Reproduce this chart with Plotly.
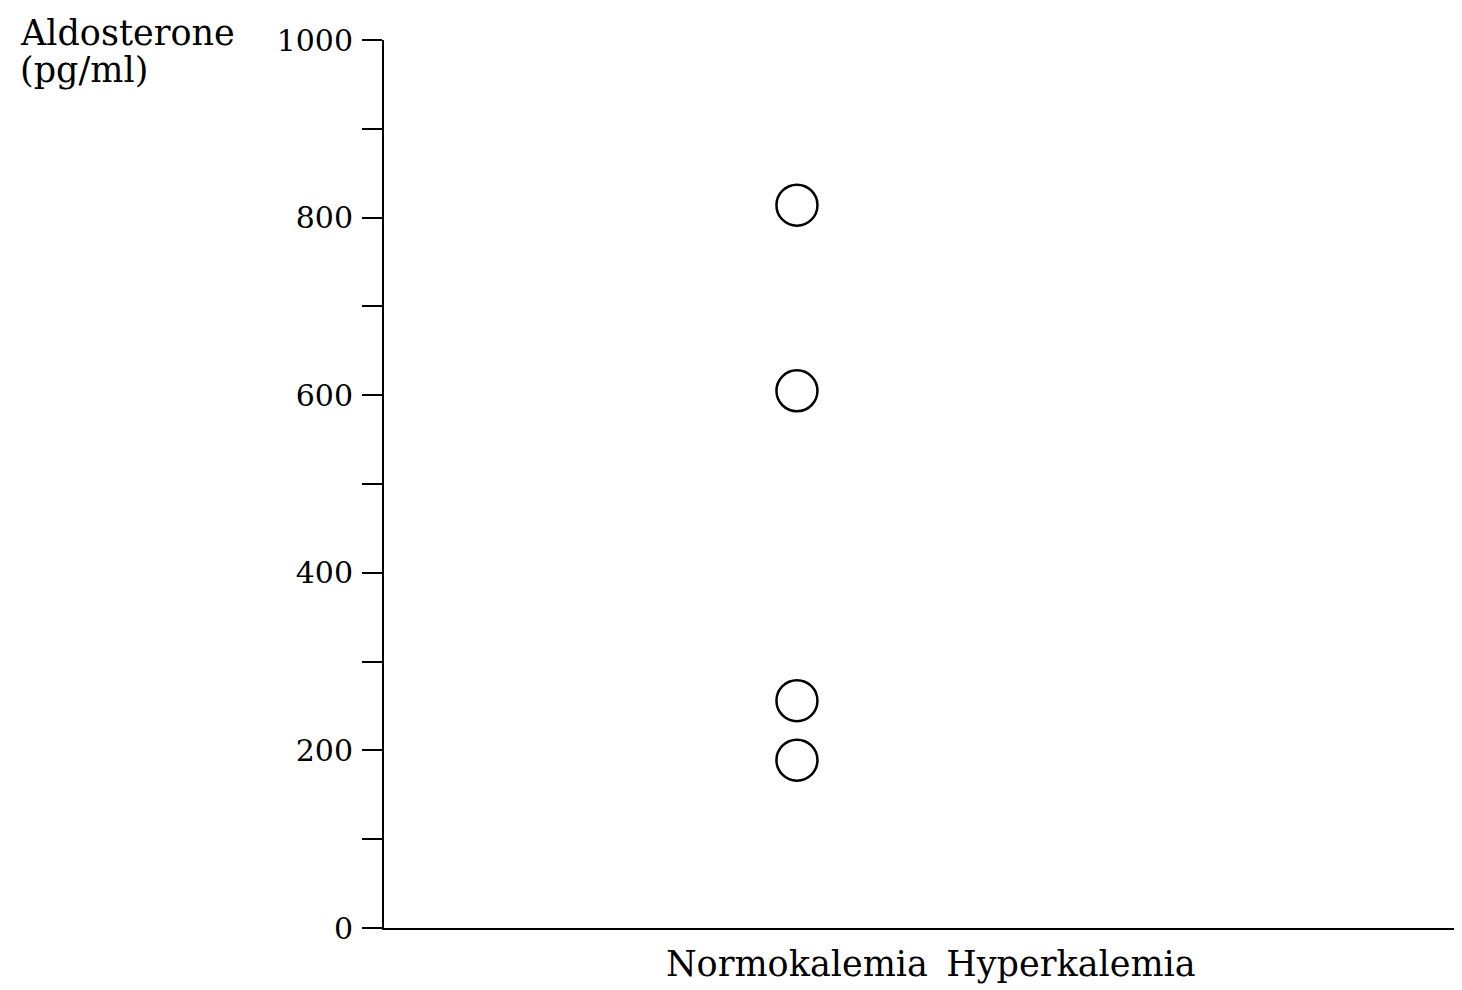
import plotly.graph_objects as go

categories = ["Normokalemia", "Hyperkalemia"]
normokalemia_values = [814, 605, 256, 189]
hyperkalemia_values = []
y_tick_values = [0, 200, 400, 600, 800, 1000]
y_tick_labels = ["0", "200", "400", "600", "800", "1000"]

FONT = "DejaVu Serif"

fig = go.Figure()
fig.add_trace(go.Scatter(
    x=[0] * len(normokalemia_values), y=normokalemia_values,
    mode="markers",
    marker=dict(symbol="circle-open", size=41, color="black", line=dict(width=2.5, color="black")),
    showlegend=False, hoverinfo="y",
))
fig.add_trace(go.Scatter(
    x=[1] * len(hyperkalemia_values), y=hyperkalemia_values,
    mode="markers",
    marker=dict(symbol="circle-open", size=41, color="black", line=dict(width=2.5, color="black")),
    showlegend=False,
))

fig.update_layout(
    width=1454, height=982,
    margin=dict(l=376, r=0, t=32, b=62),
    paper_bgcolor="white", plot_bgcolor="white",
    font=dict(family=FONT, color="black"),
    xaxis=dict(
        range=[-1.507, 2.427],
        tickvals=[0, 1], ticktext=categories,
        ticks="", showgrid=False, zeroline=False,
        showline=True, linecolor="black", linewidth=2,
        tickfont=dict(size=35, family=FONT),
        ticklabelstandoff=4,
    ),
    yaxis=dict(
        range=[0, 1000],
        tickvals=y_tick_values, ticktext=y_tick_labels,
        ticks="outside", ticklen=20, tickwidth=2, tickcolor="black",
        minor=dict(dtick=100, tick0=0, ticks="outside", ticklen=20, tickwidth=2, tickcolor="black"),
        showgrid=False, zeroline=False,
        showline=True, linecolor="black", linewidth=2,
        tickfont=dict(size=30, family=FONT),
        ticklabelstandoff=3,
    ),
    annotations=[
        dict(
            text="Aldosterone",
            xref="paper", yref="paper",
            x=(10 - 376) / 1078, y=(888 + 32 - 25) / 888 - 0.0,
            xanchor="left", yanchor="middle", align="left",
            showarrow=False, font=dict(size=35, family=FONT, color="black"),
        ),
        dict(
            text="(pg/ml)",
            xref="paper", yref="paper",
            x=(10 - 376) / 1078, y=(888 + 32 - 62) / 888,
            xanchor="left", yanchor="middle", align="left",
            showarrow=False, font=dict(size=35, family=FONT, color="black"),
        ),
    ],
)

fig.write_html("out.html")
